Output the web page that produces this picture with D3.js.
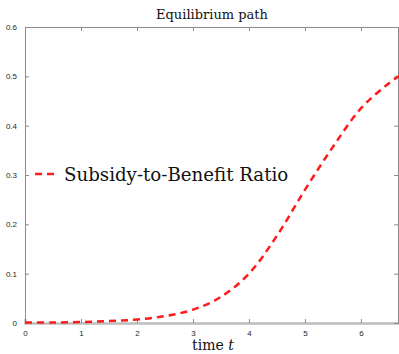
<!DOCTYPE html>
<html>
  <head>
    <meta charset="utf-8">
    <title>Equilibrium path</title>
    <script src="https://cdn.jsdelivr.net/npm/d3@7"></script>
    <style>
      body { margin: 0; background: #fff; }
      .tick text { font-family: "Liberation Sans", Arial, sans-serif; font-size: 8px; fill: #262626; }
      .serif { font-family: "DejaVu Serif", "Liberation Serif", serif; fill: #111; }
    </style>
  </head>
  <body>
    <div id="vis"></div>
    <script>
      // time t and subsidy-to-benefit ratio
      var times = [0, 0.5, 1, 1.5, 2, 2.5, 3, 3.5, 4, 4.5, 5, 5.5, 6, 6.5, 6.7]
      var ratio = [0.001, 0.001, 0.002, 0.004, 0.007, 0.014, 0.027, 0.053, 0.100, 0.177, 0.270, 0.357, 0.435, 0.486, 0.502]
      var xTicks = [0, 1, 2, 3, 4, 5, 6]
      var yTicks = [0, 0.1, 0.2, 0.3, 0.4, 0.5, 0.6]

      var W = 399, H = 354
      var m = {left: 25, top: 27, right: 0, bottom: 31}
      var data = times.map(function(t, i){ return {t: t, v: ratio[i]}; })

      var x = d3.scaleLinear().domain([0, 6.68]).range([m.left, W - m.right])
      var y = d3.scaleLinear().domain([0, 0.6]).range([H - m.bottom, m.top])

      var svg = d3.select("#vis").append("svg")
                  .attr("width", W).attr("height", H)

      var fmt = function(d){ return d === 0 ? "0" : d3.format(".1f")(d); }

      // axes box, ticks point inward like matlab
      var gx = svg.append("g").attr("transform", "translate(0," + y(0) + ")")
        .call(d3.axisBottom(x).tickValues(xTicks).tickSize(-4).tickPadding(7).tickFormat(d3.format("d")))
      var gxt = svg.append("g").attr("transform", "translate(0," + y(0.6) + ")")
        .call(d3.axisTop(x).tickValues(xTicks).tickSize(-4).tickFormat(""))
      var gy = svg.append("g").attr("transform", "translate(" + x(0) + ",0)")
        .call(d3.axisLeft(y).tickValues(yTicks).tickSize(-4).tickPadding(8).tickFormat(fmt))
      var gyr = svg.append("g").attr("transform", "translate(" + (W - 1) + ",0)")
        .call(d3.axisRight(y).tickValues(yTicks).tickSize(-4).tickFormat(""))

      svg.selectAll(".domain").attr("stroke", "#8c8c8c").attr("stroke-width", 1)
      svg.selectAll(".tick line").attr("stroke", "#8c8c8c")
      gx.select(".domain").attr("stroke", "#bdbdbd").attr("stroke-width", 2.5)

      svg.append("path").datum(data)
        .attr("fill", "none")
        .attr("stroke", "#ff1a1a")
        .attr("stroke-width", 2.5)
        .attr("stroke-dasharray", "7,5")
        .attr("d", d3.line().curve(d3.curveCatmullRom)
          .x(function(d){ return x(d.t); })
          .y(function(d){ return y(d.v); }))

      svg.append("text").attr("class", "serif")
        .attr("x", 212).attr("y", 19)
        .attr("text-anchor", "middle").attr("font-size", 13)
        .text("Equilibrium path")

      var xl = svg.append("text").attr("class", "serif")
        .attr("x", 213).attr("y", 350)
        .attr("text-anchor", "middle").attr("font-size", 14)
      xl.append("tspan").text("time ")
      xl.append("tspan").attr("font-style", "italic").text("t")

      // legend
      svg.append("line")
        .attr("x1", 35).attr("x2", 56).attr("y1", 174).attr("y2", 174)
        .attr("stroke", "#ff1a1a").attr("stroke-width", 2.5).attr("stroke-dasharray", "7,5")
      svg.append("text").attr("class", "serif")
        .attr("x", 64).attr("y", 181).attr("font-size", 18.2)
        .text("Subsidy-to-Benefit Ratio")
    </script>
  </body>
</html>
